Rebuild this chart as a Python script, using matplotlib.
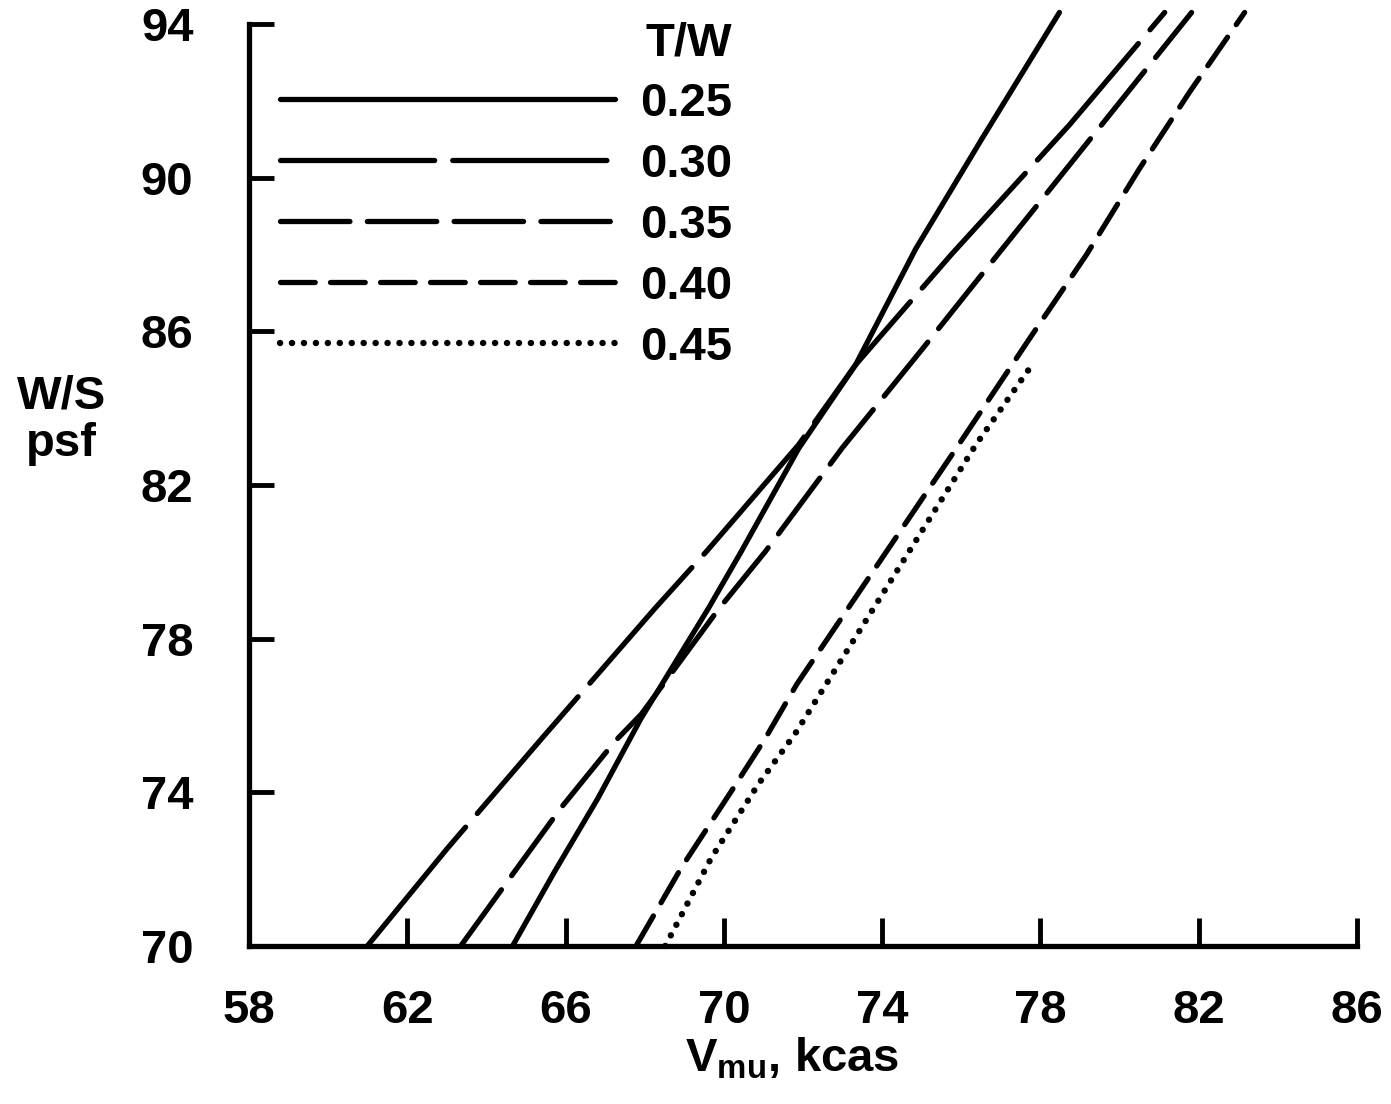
import matplotlib.pyplot as plt

# V_mu (kcas) vs W/S (psf) for each T/W
tw_labels = ['0.25', '0.30', '0.35', '0.40', '0.45']

v25 = [64.66, 65.73, 66.82, 67.91, 69.61, 70.44, 71.89, 73.33, 74.85, 76.52, 78.48]
w25 = [70.0, 71.95, 73.85, 75.93, 78.79, 80.27, 82.95, 85.13, 88.15, 91.01, 94.3]

v30 = [60.99, 63.02, 65.38, 68.26, 69.56, 71.89, 73.33, 75.74, 78.73, 81.14]
w30 = [70.0, 72.55, 75.38, 78.79, 80.27, 83.05, 85.13, 87.99, 91.37, 94.3]

v35 = [63.35, 64.72, 65.88, 67.25, 67.91, 69.86, 71.05, 72.98, 75.00, 76.37, 79.06, 81.82]
w35 = [70.0, 71.95, 73.59, 75.33, 76.03, 78.76, 80.27, 82.95, 85.52, 87.29, 90.75, 94.3]

v40 = [67.78, 68.92, 70.19, 71.05, 71.84, 75.87, 77.79, 79.16, 80.50, 81.77, 83.16]
w40 = [70.0, 72.03, 74.03, 75.41, 76.81, 82.95, 85.91, 87.99, 90.23, 92.23, 94.3]

v45 = [68.52, 69.68, 70.87, 71.81, 76.37, 77.79]
w45 = [70.0, 72.29, 74.21, 75.54, 83.05, 85.13]

xticks = [58, 62, 66, 70, 74, 78, 82, 86]
yticks = [70, 74, 78, 82, 86, 90, 94]

plt.rcParams['font.family'] = ['Liberation Sans', 'DejaVu Sans']
plt.rcParams['font.weight'] = 'bold'
plt.rcParams['axes.labelweight'] = 'bold'
plt.rcParams['mathtext.fontset'] = 'custom'
plt.rcParams['mathtext.rm'] = 'Liberation Sans:bold'
plt.rcParams['mathtext.it'] = 'Liberation Sans:bold'
plt.rcParams['mathtext.bf'] = 'Liberation Sans:bold'
plt.rcParams['lines.scale_dashes'] = False

FS = 34
LW = 3.8

fig = plt.figure(figsize=(13.91, 11.04), dpi=100)
ax = fig.add_axes([249 / 1391, 158 / 1104, 1108 / 1391, 922 / 1104])

series = [(v25, w25, None, LW), (v30, w30, (111, 13), LW), (v35, w35, (50, 12.5), LW),
          (v40, w40, (25, 11), LW), (v45, w45, (0.1, 8.5), 4.6)]
for (v, w, dash, lw), lab in zip(series, tw_labels):
    line, = ax.plot(v, w, color='black', lw=lw, label=lab, clip_on=False,
                    solid_capstyle='round', dash_capstyle='round')
    if dash is not None:
        line.set_dashes(dash)

ax.set_xlim(58, 86)
ax.set_ylim(70, 94)
ax.set_xticks(xticks)
ax.set_yticks(yticks)
ax.spines['top'].set_visible(False)
ax.spines['right'].set_visible(False)
for s in ['left', 'bottom']:
    ax.spines[s].set_linewidth(3.8)
    ax.spines[s].set_capstyle('projecting')
ax.tick_params(axis='x', direction='in', length=20, width=3.5, pad=31, labelsize=FS)
ax.tick_params(axis='y', direction='in', length=18, width=3.5, pad=40, labelsize=FS)

ax.set_xlabel(r'V$_{\mathrm{mu}}$, kcas', fontsize=FS, va='top')
ax.xaxis.set_label_coords(0.49, -0.098)
ax.set_ylabel('W/S\npsf', rotation=0, fontsize=FS, ha='center', va='center',
              multialignment='center', linespacing=1.1)
ax.yaxis.set_label_coords(-0.169, 0.57)

leg = ax.legend(title='T/W', loc='upper left', bbox_to_anchor=(280 / 1391, 1 - 21 / 1104),
                bbox_transform=fig.transFigure, frameon=False, fontsize=FS,
                title_fontsize=FS, handlelength=7.1, handletextpad=0.53,
                labelspacing=0.36, borderpad=0, borderaxespad=0, alignment='right')

fig.savefig('out.png', dpi=100)
